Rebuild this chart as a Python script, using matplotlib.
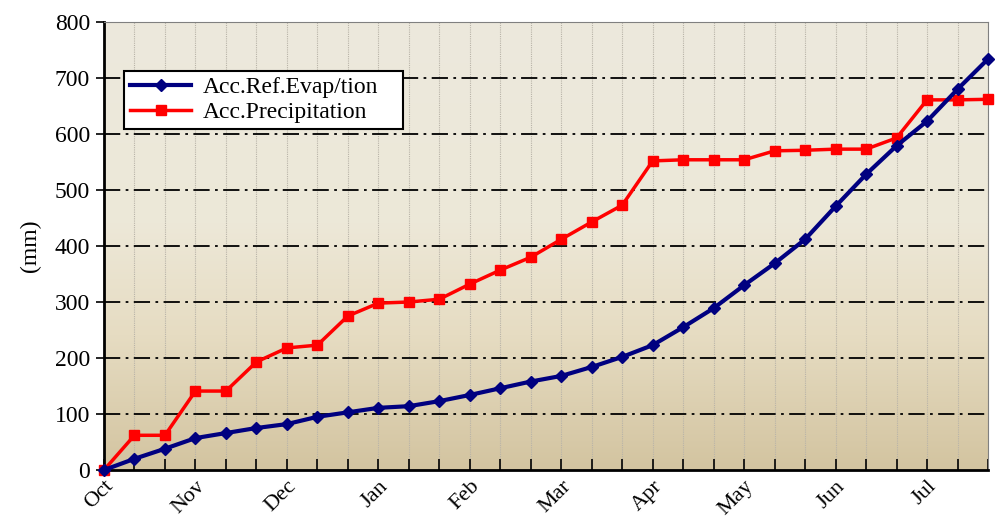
import numpy as np
import matplotlib.pyplot as plt
from matplotlib.colors import LinearSegmentedColormap

months = ["Oct", "Nov", "Dec", "Jan", "Feb", "Mar", "Apr", "May", "Jun", "Jul"]

# accumulated values every ~10 days (3 per month)
evap = [0, 20, 38, 57, 66, 75, 82, 95, 103, 111, 114, 123, 134, 146, 158,
        168, 184, 202, 223, 255, 289, 330, 369, 412, 471, 528, 579, 623, 680, 734]
precip = [0, 62, 62, 141, 141, 193, 218, 223, 275, 298, 300, 305, 332, 357, 380,
          412, 443, 473, 552, 554, 554, 554, 570, 571, 573, 573, 593, 661, 661, 662]

plt.rcParams["font.family"] = ["Liberation Serif", "DejaVu Serif"]

fig = plt.figure(figsize=(9.96, 5.22), dpi=100)
ax = fig.add_axes([0.1044, 0.0996, 0.8876, 0.8582])

x = np.arange(len(evap))

# background gradient
cmap = LinearSegmentedColormap.from_list(
    "bg", [(0.0, "#d3c4a0"), (0.3, "#e6dcc2"), (0.55, "#ede8d8"), (1.0, "#ece9dd")])
grad = np.linspace(0, 1, 256).reshape(-1, 1)
ax.imshow(grad, aspect="auto", cmap=cmap, origin="lower",
          extent=[0, len(x) - 1, 0, 800], zorder=0)

ax.plot(x, evap, color="#000080", lw=3, marker="D", ms=6,
        label="Acc.Ref.Evap/tion", zorder=4, clip_on=False)
ax.plot(x, precip, color="#ff0000", lw=2.5, marker="s", ms=6.5,
        label="Acc.Precipitation", zorder=3, clip_on=False)

ax.set_xlim(0, len(x) - 1)
ax.set_ylim(0, 800)
ax.set_yticks(range(0, 801, 100))
ax.set_xticks(x)
ax.set_xticklabels([months[i // 3] if i % 3 == 0 else "" for i in x],
                   rotation=45, ha="right", rotation_mode="anchor", fontsize=16)
ax.tick_params(axis="x", direction="in", length=8, width=1.2, pad=5)
ax.tick_params(axis="y", direction="out", length=6, width=1.2, labelsize=17, pad=4)

for v in x:
    ax.axvline(v, color="#b8b3a8", lw=0.8, ls=(0, (1, 1)), zorder=1)
for v in range(100, 800, 100):
    ax.axhline(v, color="black", lw=1.3, ls=(0, (9, 3, 1.5, 3)), zorder=2)

ax.spines["left"].set_linewidth(2)
ax.spines["bottom"].set_linewidth(2)
ax.spines["top"].set_color("#808080")
ax.spines["right"].set_color("#808080")

ax.set_ylabel("(mm)", fontsize=17, labelpad=10)

leg = ax.legend(loc="upper left", bbox_to_anchor=(0.0226, 0.761, 0.316, 0.13),
                mode="expand", fontsize=17, fancybox=False, framealpha=1,
                edgecolor="black", borderpad=0.25, handlelength=2.6,
                handletextpad=0.5, labelspacing=0.15, borderaxespad=0)
leg.get_frame().set_linewidth(1.5)

fig.savefig("out.png", dpi=100)
